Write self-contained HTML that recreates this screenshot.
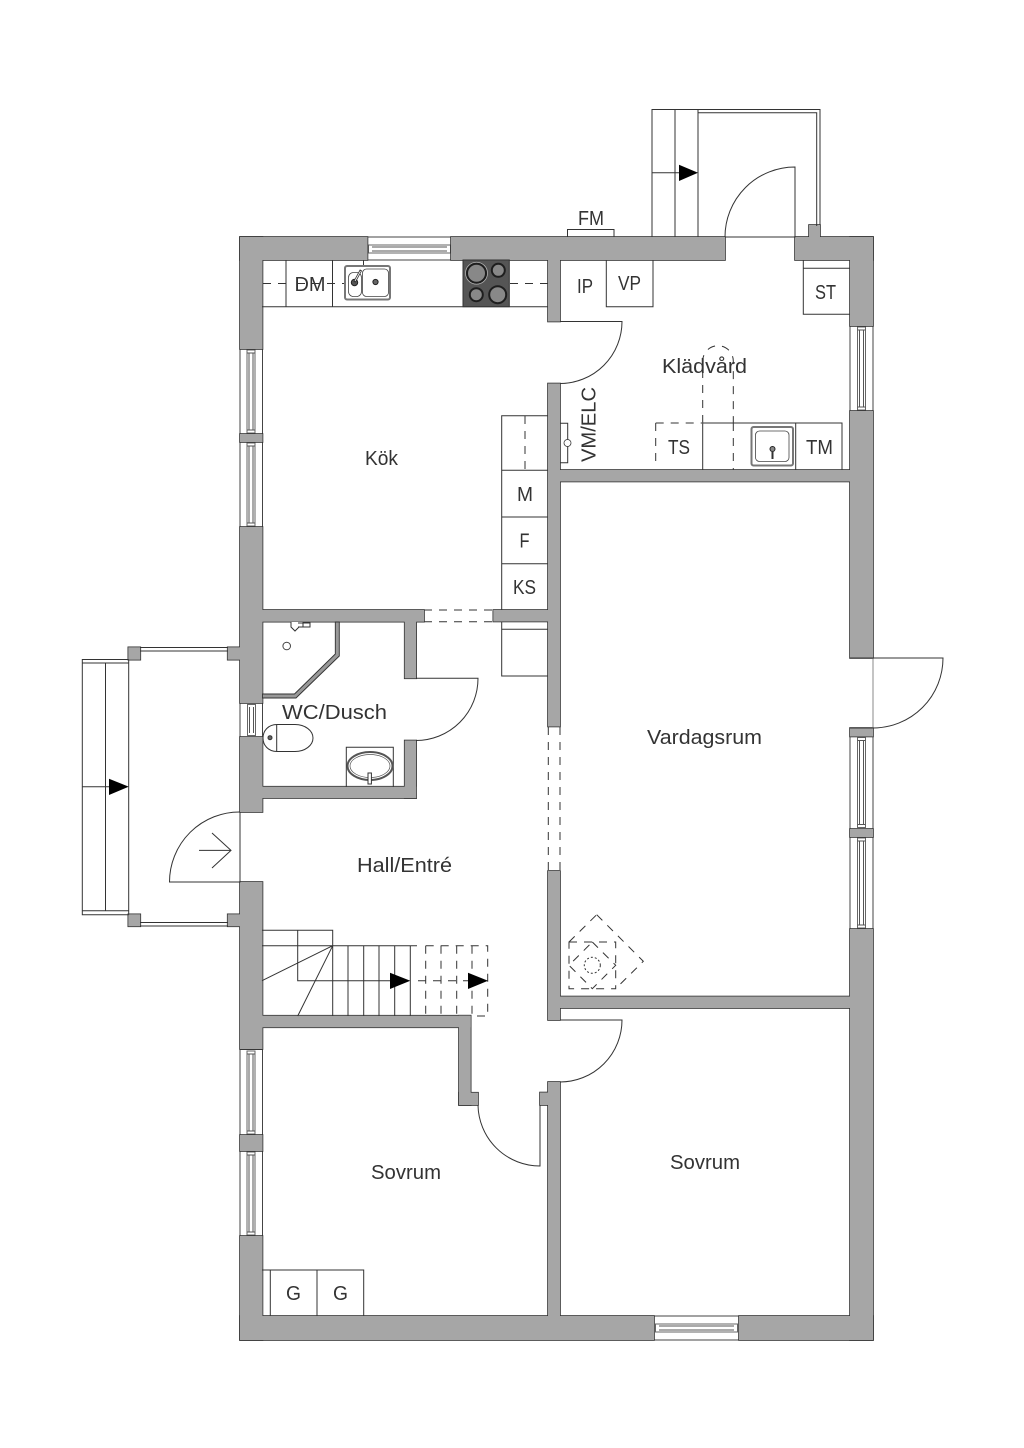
<!DOCTYPE html>
<html><head><meta charset="utf-8"><style>
html,body{margin:0;padding:0;background:#fff}
svg{display:block}
text{font-family:"Liberation Sans",sans-serif;font-size:20px;fill:#333;text-anchor:middle}
.l{fill:none;stroke:#333;stroke-width:1}
.d{fill:none;stroke:#333;stroke-width:1;stroke-dasharray:8 7}
.win{fill:#fff;stroke:#444;stroke-width:1}
.fr{fill:#fff;stroke:#666;stroke-width:1}
</style></head><body>
<svg width="1024" height="1448" viewBox="0 0 1024 1448" xmlns="http://www.w3.org/2000/svg">
<rect width="1024" height="1448" fill="#fff"/>
<defs>
<g id="w">
<rect x="240" y="237" width="127.5" height="23"/><rect x="451" y="237" width="274" height="23"/><rect x="795" y="237" width="78" height="23"/>
<rect x="809" y="225" width="11" height="14"/>
<rect x="850" y="237" width="23" height="89"/><rect x="850" y="411" width="23" height="247"/><rect x="850" y="728" width="23" height="8.5"/><rect x="850" y="829" width="23" height="8"/><rect x="850" y="929" width="23" height="411"/>
<rect x="240" y="237" width="22.5" height="112"/><rect x="240" y="434" width="22.5" height="8"/><rect x="240" y="527" width="22.5" height="176"/><rect x="240" y="737" width="22.5" height="75"/><rect x="240" y="882" width="22.5" height="167"/><rect x="240" y="1135" width="22.5" height="16"/><rect x="240" y="1236" width="22.5" height="104"/>
<rect x="240" y="1316" width="414" height="24"/><rect x="739" y="1316" width="134" height="24"/>
<rect x="548" y="260" width="12" height="61.5"/><rect x="548" y="383.5" width="12" height="343"/><rect x="548" y="871" width="12" height="149"/><rect x="548" y="1082" width="12" height="240"/>
<rect x="540" y="1092.5" width="10" height="12.5"/>
<rect x="560" y="470" width="292" height="11.5"/><rect x="560" y="996.5" width="292" height="11.5"/>
<rect x="260" y="610" width="164" height="11.7"/><rect x="493.3" y="610" width="56" height="11.5"/>
<rect x="404.7" y="620" width="11.5" height="58.3"/><rect x="404.7" y="740.5" width="11.5" height="57.5"/>
<rect x="260" y="786.7" width="156.2" height="11.3"/>
<rect x="260" y="1015.7" width="210.7" height="11.6"/><rect x="459" y="1015.7" width="11.7" height="89.3"/><rect x="459" y="1092.7" width="19" height="12.3"/>
<rect x="128.3" y="647.3" width="12" height="12.4"/><rect x="227.7" y="647.3" width="14" height="12.4"/>
<rect x="128.3" y="914.3" width="12" height="12"/><rect x="227.7" y="914.3" width="14" height="12"/>
</g>
<g id="wv"><rect class="fr" x="-4" y="1" width="8" height="83"/><line x1="-2" y1="4" x2="-2" y2="81" stroke="#555"/><line x1="2" y1="4" x2="2" y2="81" stroke="#555"/><line x1="-4" y1="4" x2="4" y2="4" stroke="#555"/><line x1="-4" y1="81" x2="4" y2="81" stroke="#555"/></g>
<g id="wt"><rect class="fr" x="-4" y="1" width="8" height="90"/><line x1="-2" y1="4" x2="-2" y2="88" stroke="#555"/><line x1="2" y1="4" x2="2" y2="88" stroke="#555"/><line x1="-4" y1="4" x2="4" y2="4" stroke="#555"/><line x1="-4" y1="88" x2="4" y2="88" stroke="#555"/></g>
</defs>

<!-- windows -->
<rect class="win" x="367.5" y="237" width="83.5" height="23"/>
<rect class="fr" x="368.5" y="245" width="82" height="8"/><line x1="372" y1="247" x2="447" y2="247" stroke="#555"/><line x1="372" y1="251" x2="447" y2="251" stroke="#555"/>
<rect class="win" x="654" y="1316" width="85" height="24"/>
<rect class="fr" x="655.5" y="1324" width="82" height="8"/><line x1="659" y1="1326" x2="734" y2="1326" stroke="#555"/><line x1="659" y1="1330" x2="734" y2="1330" stroke="#555"/>
<rect class="win" x="240" y="349" width="22.5" height="85"/><use href="#wv" x="251" y="349"/>
<rect class="win" x="240" y="442" width="22.5" height="85"/><use href="#wv" x="251" y="442"/>
<rect class="win" x="240" y="1049.5" width="22.5" height="85.5"/><use href="#wv" x="251" y="1050"/>
<rect class="win" x="240" y="1151" width="22.5" height="85"/><use href="#wv" x="251" y="1151"/>
<rect class="win" x="850" y="326" width="23" height="85"/><use href="#wv" x="861.5" y="326"/>
<rect class="win" x="850" y="736.5" width="23" height="92.5"/><use href="#wt" x="861.5" y="736.5"/>
<rect class="win" x="850" y="837" width="23" height="92"/><use href="#wt" x="861.5" y="837"/>
<rect class="win" x="240" y="703" width="22.5" height="34"/>
<rect class="fr" x="247.5" y="704.5" width="8" height="31"/><line x1="249.5" y1="707" x2="249.5" y2="733" stroke="#555"/><line x1="253.5" y1="707" x2="253.5" y2="733" stroke="#555"/>

<!-- walls -->
<use href="#w" fill="#a6a6a6" stroke="#333" stroke-width="1.6"/>
<use href="#w" fill="#a6a6a6" stroke="none"/>

<!-- doors -->
<path class="l" d="M725 237H795V167A70 70 0 0 0 725 237"/>
<path class="l" d="M240 812V882H169.5A70 70 0 0 1 240 812"/>
<path d="M873 658V728" stroke="#888" fill="none"/>
<path class="l" d="M850 658H943A70 70 0 0 1 873 728H850"/>
<path class="l" d="M560 321.5H622A62 62 0 0 1 560 383.5"/>
<path class="l" d="M560 1020H622A62 62 0 0 1 560 1082"/>
<path class="l" d="M416 678.3H478A62 62 0 0 1 416 740.5"/>
<path class="l" d="M478 1105A62 62 0 0 0 540 1166V1105"/>
<path class="l" d="M199 850.4H231M212 833L231 850.4L212 868" stroke-width="1.2"/>

<!-- top balcony -->
<path class="l" d="M652 237V109.5H820V225M675 109.5V237M698 109.5V237M698 112.8H816.7V226" stroke="#555"/>
<path class="l" d="M652 172.7H680"/>
<polygon points="679,164.7 698,172.7 679,181" fill="#000"/>
<!-- left balcony -->
<path class="l" d="M140 647.5H228M140 651H228M140 922.5H228M140 926H228" stroke="#555"/>
<path class="l" d="M128.7 659.5H82.3V914.7H128.7M82.3 663H128.7M82.3 910.7H128.7M105.5 663V910.7M128.7 659.5V914.7"/>
<path class="l" d="M82.3 786.7H110"/>
<polygon points="109,778.7 128.7,786.7 109,795" fill="#000"/>

<!-- FM -->
<path class="l" d="M567.5 237V229.5H614V237"/>

<!-- kitchen counter -->
<path class="l" d="M262 306.7H548M286 260V306.7M332.5 260V306.7M363.5 260V268"/>
<path class="d" d="M263 283.5H290M297 283.5H345M510 283.5H548"/>
<rect x="345" y="266" width="45" height="33.5" rx="2" fill="#fff" stroke="#777" stroke-width="2"/>
<rect x="348.5" y="272.5" width="13" height="24" rx="5" fill="#fff" stroke="#444" stroke-width=".8"/>
<rect x="362.5" y="269" width="26" height="27.5" rx="4" fill="#fff" stroke="#444" stroke-width=".8"/>
<circle cx="354.5" cy="282.5" r="3.2" fill="#555" stroke="#222"/>
<circle cx="375.5" cy="282" r="2.6" fill="#666" stroke="#222"/>
<path d="M354.5 282L361 270" stroke="#333" stroke-width="2.4"/><path d="M355 281L360.5 271" stroke="#fff" stroke-width=".8"/>
<rect x="463" y="260" width="46.3" height="46.7" fill="#555" stroke="#333"/>
<g fill="#888" stroke="#1e1e1e" stroke-width="2"><circle cx="476.5" cy="273.2" r="9.5"/><circle cx="498.3" cy="270.3" r="6.5"/><circle cx="476.3" cy="294.7" r="6.5"/><circle cx="497.7" cy="294.7" r="8.5"/></g>
<circle cx="476.5" cy="273.2" r="11" fill="none" stroke="#bbb" stroke-width=".7"/>

<!-- kitchen right column -->
<path class="l" d="M548 415.7H501.7V610M501.7 470.3H548M501.7 517H548M501.7 563.7H548M501.7 622V676H548M501.7 629.3H548"/>
<path class="d" d="M525 416V470"/>
<!-- opening dashes -->
<path class="d" d="M424 610H493M424 621.7H493"/>
<path class="d" d="M548.3 727V871M560 727V871"/>

<!-- Kladvard -->
<path class="l" d="M606.3 260V306.7H653V260"/>
<path class="l" d="M803.3 260V314.3H850M803.3 268.3H850"/>
<path class="l" d="M560 423.3H567.7V462.7H560"/><circle cx="567.5" cy="443" r="3.5" fill="#fff" stroke="#333" stroke-width=".8"/>
<path class="l" d="M702.7 423H842V470M702.7 423V470M795.7 423V470"/>
<path class="d" d="M655.7 423H702M655.7 423V464M733.3 423V470" stroke-dasharray="8 6"/>
<path class="d" d="M702.7 423V361A15.3 15.3 0 0 1 733.3 361V423" stroke-dasharray="8 6"/>
<rect x="751.5" y="427" width="41.5" height="38.5" rx="2" fill="#fff" stroke="#777" stroke-width="2"/>
<rect x="755.5" y="431" width="33.5" height="30.5" rx="4" fill="#fff" stroke="#444" stroke-width=".8"/>
<circle cx="772.5" cy="449" r="2.5" fill="#888" stroke="#222"/><path d="M772.5 451V459" stroke="#333" stroke-width="2"/>

<!-- WC -->
<polygon points="339.3,622 339.3,656 296,698 262.5,698 262.5,694 294.5,694 335.3,654 335.3,622" fill="#999" stroke="#333" stroke-width=".9"/>
<circle cx="286.7" cy="646" r="3.8" fill="#fff" stroke="#444"/>
<path d="M291 622V627L295 631L299 627H303V622M298 623H310V627H298" fill="#fff" stroke="#333"/>
<path class="l" d="M277 724.5H295A18 13.5 0 0 1 295 751.5H277C268 751.5 263 745 263 738C263 731 268 724.5 277 724.5ZM276.7 724.5V751.5"/>
<circle cx="270" cy="737.7" r="2" fill="#666" stroke="#333"/>
<path class="l" d="M346.3 787V747.3H393.3V787"/>
<ellipse cx="370" cy="766" rx="22.5" ry="14" fill="#fff" stroke="#555" stroke-width="2"/>
<ellipse cx="370" cy="766" rx="20" ry="11.5" fill="#fff" stroke="#555" stroke-width=".7"/>
<rect x="368" y="773" width="3.4" height="11" fill="#fff" stroke="#333" stroke-width="1"/>

<!-- stairs -->
<path class="l" d="M262 930.3H332.7V1016M262 945.7H417M297.7 930.3V980.7H392M332.7 945.7L262 980.7M332.7 945.7L297.7 1016M348 945.7V1016M363.7 945.7V1016M379 945.7V1016M394.7 945.7V1016M410.3 945.7V1016"/>
<polygon points="390,972.7 410.3,980.7 390,989" fill="#000"/>
<path class="d" d="M425.7 945.7H487.7V1016H472M425.7 945.7V1016M441 945.7V1016M456.7 945.7V1016M472 945.7V1016M418 980.7H470"/>
<polygon points="468,972.7 488,980.7 468,989" fill="#000"/>

<!-- fireplace -->
<path class="d" stroke-dasharray="4 3" d="M569 942H615.7V988.7H569ZM596.7 914.7L643.3 961.3L615.7 988.7M569 942L596.7 914.7M592.3 942L615.7 965.3L592.3 988.7L569 965.3Z"/>
<circle cx="592.3" cy="965.3" r="8" fill="none" stroke="#333" stroke-dasharray="2 2"/>

<!-- wardrobe -->
<path class="l" d="M262 1270H363.7V1316M270.3 1270V1316M317 1270V1316"/>

<!-- labels -->
<text x="381.5" y="465" textLength="33" lengthAdjust="spacingAndGlyphs">Kök</text>
<text x="704.5" y="373" textLength="85" lengthAdjust="spacingAndGlyphs">Klädvård</text>
<text x="704.5" y="744" textLength="115" lengthAdjust="spacingAndGlyphs">Vardagsrum</text>
<text x="334.5" y="719" textLength="105" lengthAdjust="spacingAndGlyphs">WC/Dusch</text>
<text x="404.5" y="872" textLength="95" lengthAdjust="spacingAndGlyphs">Hall/Entré</text>
<text x="406" y="1179" textLength="70" lengthAdjust="spacingAndGlyphs">Sovrum</text>
<text x="705" y="1169" textLength="70" lengthAdjust="spacingAndGlyphs">Sovrum</text>
<text x="310" y="291" textLength="31" lengthAdjust="spacingAndGlyphs">DM</text>
<text x="585" y="293" textLength="16" lengthAdjust="spacingAndGlyphs">IP</text>
<text x="629.5" y="290" textLength="23" lengthAdjust="spacingAndGlyphs">VP</text>
<text x="825.5" y="299" textLength="21" lengthAdjust="spacingAndGlyphs">ST</text>
<text x="679" y="454" textLength="22" lengthAdjust="spacingAndGlyphs">TS</text>
<text x="819.5" y="454" textLength="27" lengthAdjust="spacingAndGlyphs">TM</text>
<text x="525" y="501" textLength="16" lengthAdjust="spacingAndGlyphs">M</text>
<text x="524.5" y="547.5" textLength="10" lengthAdjust="spacingAndGlyphs">F</text>
<text x="524.5" y="594" textLength="23" lengthAdjust="spacingAndGlyphs">KS</text>
<text x="293.5" y="1300" textLength="15" lengthAdjust="spacingAndGlyphs">G</text>
<text x="340.5" y="1300" textLength="15" lengthAdjust="spacingAndGlyphs">G</text>
<text x="591" y="225" textLength="26" lengthAdjust="spacingAndGlyphs">FM</text>
<text transform="translate(595.5 424.5) rotate(-90)" textLength="75" lengthAdjust="spacingAndGlyphs">VM/ELC</text>
</svg>
</body></html>
